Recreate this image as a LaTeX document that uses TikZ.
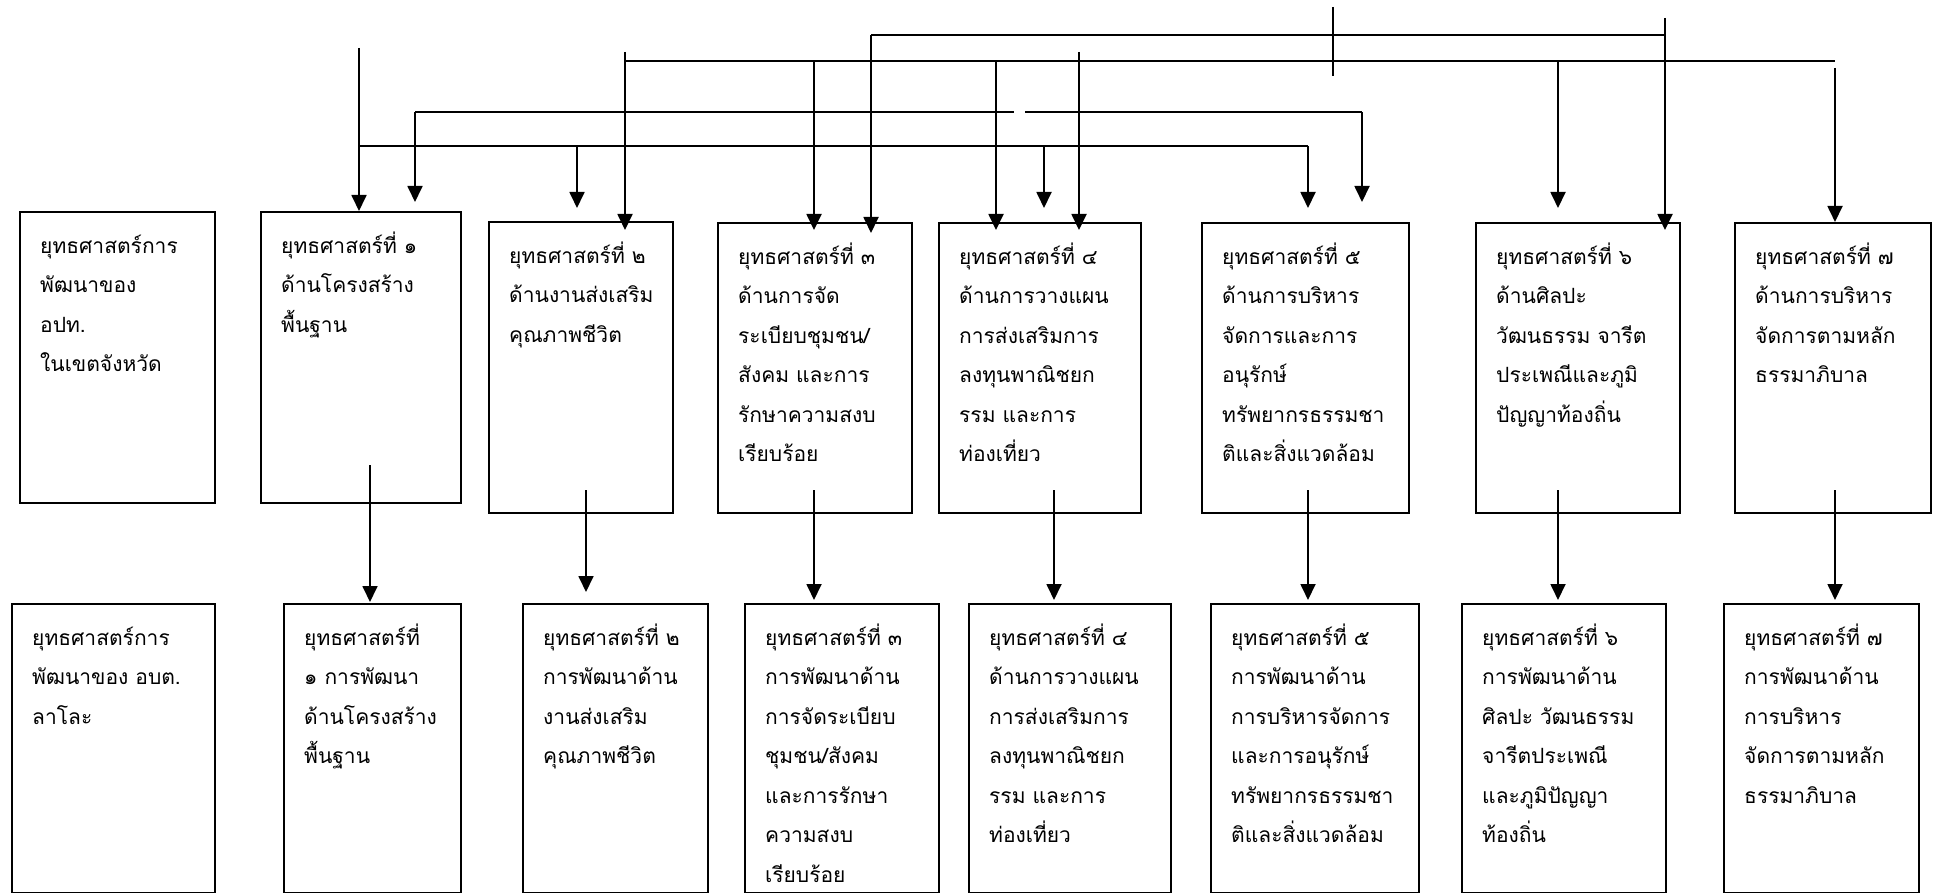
\documentclass[tikz,border=0pt]{standalone}
\usepackage{fontspec}
\newfontfamily\thaifont[Script=Thai]{Loma}
\usetikzlibrary{arrows.meta}

\tikzset{
  sbox/.style 2 args={draw, line width=1.2pt, anchor=north west, align=left,
    inner xsep=10pt, inner ysep=0pt, text width=#1, text height=20.5pt, text depth=#2,
    font={\thaifont\fontsize{10.5pt}{19.75pt}\selectfont}},
  arr/.style={-{Triangle[length=8pt,width=7.5pt]}},
}

\begin{document}
\begin{tikzpicture}[x=0.5pt,y=-0.5pt,line width=0.9pt]
  \useasboundingbox (0,0) rectangle (1933,893);

  % upper row
  \node[sbox={77.5pt}{125pt}](S0) at (19,211)  {ยุทธศาสตร์การ\\พัฒนาของ\\อปท.\\ในเขตจังหวัด};
  \node[sbox={80pt}{125pt}]  (S1) at (260,211) {ยุทธศาสตร์ที่ ๑\\ด้านโครงสร้าง\\พื้นฐาน};
  \node[sbox={72pt}{125pt}]  (S2) at (488,221) {ยุทธศาสตร์ที่ ๒\\ด้านงานส่งเสริม\\คุณภาพชีวิต};
  \node[sbox={77pt}{124.5pt}](S3) at (717,222) {ยุทธศาสตร์ที่ ๓\\ด้านการจัด\\ระเบียบชุมชน/\\สังคม และการ\\รักษาความสงบ\\เรียบร้อย};
  \node[sbox={81pt}{124.5pt}](S4) at (938,222) {ยุทธศาสตร์ที่ ๔\\ด้านการวางแผน\\การส่งเสริมการ\\ลงทุนพาณิชยก\\รรม และการ\\ท่องเที่ยว};
  \node[sbox={83.5pt}{124.5pt}](S5) at (1201,222) {ยุทธศาสตร์ที่ ๕\\ด้านการบริหาร\\จัดการและการ\\อนุรักษ์\\ทรัพยากรธรรมชา\\ติและสิ่งแวดล้อม};
  \node[sbox={82pt}{124.5pt}](S6) at (1475,222) {ยุทธศาสตร์ที่ ๖\\ด้านศิลปะ\\วัฒนธรรม จารีต\\ประเพณีและภูมิ\\ปัญญาท้องถิ่น};
  \node[sbox={78pt}{124.5pt}](S7) at (1734,222) {ยุทธศาสตร์ที่ ๗\\ด้านการบริหาร\\จัดการตามหลัก\\ธรรมาภิบาล};

  % lower row
  \node[sbox={81.5pt}{124pt}](L0) at (11,603)   {ยุทธศาสตร์การ\\พัฒนาของ อบต.\\ลาโละ};
  \node[sbox={68.5pt}{124pt}](L1) at (283,603)  {ยุทธศาสตร์ที่\\๑ การพัฒนา\\ด้านโครงสร้าง\\พื้นฐาน};
  \node[sbox={72.5pt}{124pt}](L2) at (522,603)  {ยุทธศาสตร์ที่ ๒\\การพัฒนาด้าน\\งานส่งเสริม\\คุณภาพชีวิต};
  \node[sbox={77pt}{124pt}]  (L3) at (744,603)  {ยุทธศาสตร์ที่ ๓\\การพัฒนาด้าน\\การจัดระเบียบ\\ชุมชน/สังคม\\และการรักษา\\ความสงบ\\เรียบร้อย};
  \node[sbox={81pt}{124pt}]  (L4) at (968,603)  {ยุทธศาสตร์ที่ ๔\\ด้านการวางแผน\\การส่งเสริมการ\\ลงทุนพาณิชยก\\รรม และการ\\ท่องเที่ยว};
  \node[sbox={84pt}{124pt}]  (L5) at (1210,603) {ยุทธศาสตร์ที่ ๕\\การพัฒนาด้าน\\การบริหารจัดการ\\และการอนุรักษ์\\ทรัพยากรธรรมชา\\ติและสิ่งแวดล้อม};
  \node[sbox={82pt}{124pt}]  (L6) at (1461,603) {ยุทธศาสตร์ที่ ๖\\การพัฒนาด้าน\\ศิลปะ วัฒนธรรม\\จารีตประเพณี\\และภูมิปัญญา\\ท้องถิ่น};
  \node[sbox={77.5pt}{124pt}](L7) at (1723,603) {ยุทธศาสตร์ที่ ๗\\การพัฒนาด้าน\\การบริหาร\\จัดการตามหลัก\\ธรรมาภิบาล};

  % line from the left
  \coordinate (a0) at (359,48);
  \draw[arr] (a0) -- (a0 |- S1.north);
  \coordinate (c1) at (359,146);
  \coordinate (c2) at (577,146);
  \coordinate (c3) at (1044,146);
  \coordinate (c4) at (1308,146);
  \draw (c1) -- (c4);
  \draw[arr,shorten >=6.5pt] (c2) -- (c2 |- S2.north);
  \draw[arr,shorten >=7pt] (c3) -- (c3 |- S4.north);
  \draw[arr,shorten >=7pt] (c4) -- (c4 |- S5.north);

  % second line, broken once
  \coordinate (k1) at (415,112);
  \coordinate (k2) at (1362,112);
  \draw (k1) -- ++(599,0) ++(11,0) -- (k2);
  \draw[arr,shorten >=4.5pt] (k1) -- (k1 |- S1.north);
  \draw[arr,shorten >=10pt] (k2) -- (k2 |- S5.north);

  % third line
  \coordinate (e1) at (625,52);
  \coordinate (e2) at (625,61);
  \coordinate (e3) at (814,61);
  \coordinate (e4) at (996,61);
  \coordinate (e5) at (1558,61);
  \coordinate (e6) at (1835,61);
  \coordinate (e7) at (1835,68);
  \draw (e2) -- (e6);
  \draw[arr,shorten >=-4.5pt] (e1) -- (e1 |- S2.north);
  \draw[arr,shorten >=-4pt] (e3) -- (e3 |- S3.north);
  \draw[arr,shorten >=-4pt] (e4) -- (e4 |- S4.north);
  \draw[arr,shorten >=7pt] (e5) -- (e5 |- S6.north);
  \draw[arr] (e7) -- (e7 |- S7.north);

  % top line
  \coordinate (f0) at (1665,18);
  \coordinate (f1) at (871,35);
  \coordinate (f2) at (1665,35);
  \draw (f1) -- (f2);
  \draw[arr,shorten >=-5.5pt] (f1) -- (f1 |- S3.north);
  \draw[arr,shorten >=-4pt] (f0) -- (f0 |- S6.north);

  \coordinate (g1) at (1079,52);
  \draw[arr,shorten >=-4pt] (g1) -- (g1 |- S4.north);
  \coordinate (m1) at (1333,7);
  \coordinate (m2) at (1333,76);
  \draw (m1) -- (m2);

  % upper row to lower row
  \foreach \i/\x/\y/\g in {1/370/465/0.5,2/586/490/5.5,3/814/490/1.5,4/1054/490/1.5,
                           5/1308/490/1.5,6/1558/490/1.5,7/1835/490/1.5}{
    \coordinate (o\i) at (\x,\y);
    \draw[arr,shorten >=\g pt] (o\i) -- (o\i |- L\i.north);
  }
\end{tikzpicture}
\end{document}
